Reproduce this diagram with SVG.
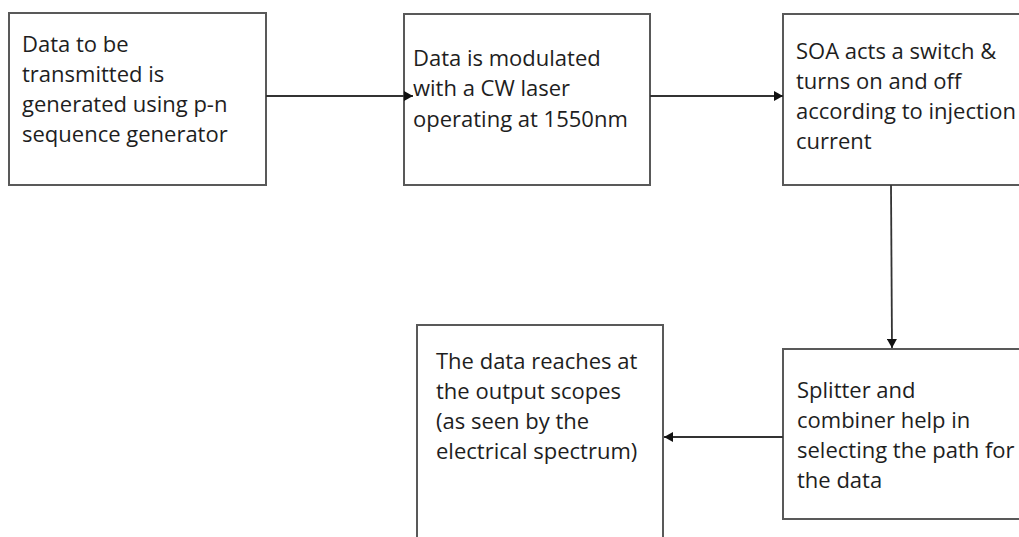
<svg xmlns="http://www.w3.org/2000/svg" width="1019" height="537" viewBox="0 0 1019 537">
<defs>
<style>
.box{fill:#fff;stroke:#595959;stroke-width:2}
.t{font-family:"Open Sans","Noto Sans",sans-serif;font-size:22px;fill:#1e1e1e}
.c{fill:none;stroke:#333;stroke-width:1.8}
</style>
<marker id="ah" markerWidth="10" markerHeight="10" refX="9" refY="5" orient="auto" markerUnits="userSpaceOnUse">
<path d="M0,0 L9,5 L0,10 Z" fill="#111"/>
</marker>
</defs>
<rect width="1019" height="537" fill="#fff"/>
<g id="n1">
<rect class="box" x="9" y="13" width="257" height="172"/>
<text class="t" x="22" y="52">Data to be</text>
<text class="t" x="22" y="82">transmitted is</text>
<text class="t" x="22" y="112">generated using p-n</text>
<text class="t" x="22" y="142">sequence generator</text>
</g>
<g id="n2">
<rect class="box" x="404" y="14" width="246" height="171"/>
<text class="t" x="413" y="66">Data is modulated</text>
<text class="t" x="413" y="96">with a CW laser</text>
<text class="t" x="413" y="127">operating at 1550nm</text>
</g>
<g id="n3">
<rect class="box" x="783" y="14" width="250" height="171"/>
<text class="t" x="796" y="59">SOA acts a switch &amp;</text>
<text class="t" x="796" y="89">turns on and off</text>
<text class="t" x="796" y="119">according to injection</text>
<text class="t" x="796" y="149">current</text>
</g>
<g id="n4">
<rect class="box" x="417" y="325" width="246" height="230"/>
<text class="t" x="436" y="369">The data reaches at</text>
<text class="t" x="436" y="399">the output scopes</text>
<text class="t" x="436" y="429">(as seen by the</text>
<text class="t" x="436" y="459">electrical spectrum)</text>
</g>
<g id="n5">
<rect class="box" x="783" y="349" width="250" height="170"/>
<text class="t" x="797" y="398">Splitter and</text>
<text class="t" x="797" y="428">combiner help in</text>
<text class="t" x="797" y="458">selecting the path for</text>
<text class="t" x="797" y="488">the data</text>
</g>
<g id="connectors">
<line class="c" x1="266" y1="96" x2="413" y2="96" marker-end="url(#ah)"/>
<line class="c" x1="650" y1="96" x2="783" y2="96" marker-end="url(#ah)"/>
<line class="c" x1="891" y1="185" x2="892" y2="348" marker-end="url(#ah)"/>
<line class="c" x1="783" y1="437" x2="664" y2="437" marker-end="url(#ah)"/>
</g>
</svg>
